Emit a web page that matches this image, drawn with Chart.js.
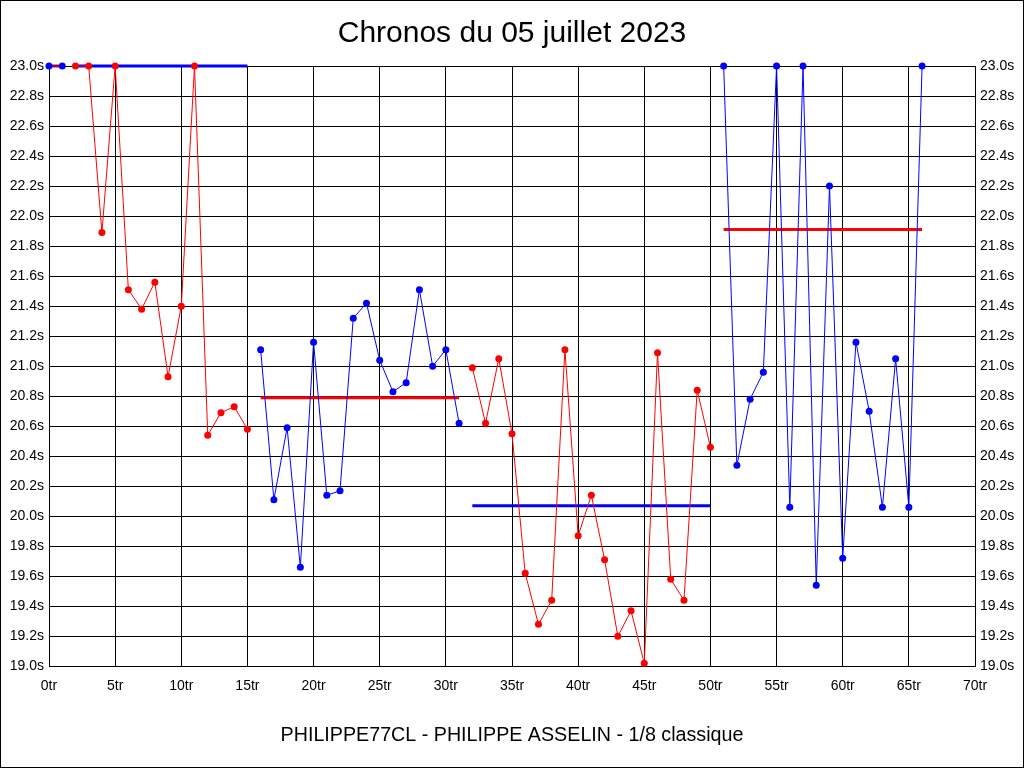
<!DOCTYPE html>
<html>
<head>
<meta charset="utf-8">
<script src="https://cdn.jsdelivr.net/npm/chart.js@4"></script>
<style>
  body { margin: 0; background: #fff; }
  #cadre { width: 1024px; height: 768px; border: 1px solid #000; box-sizing: border-box; }
  canvas { display: block; }
</style>
</head>
<body>
<div id="cadre"><canvas id="chronos" width="1022" height="766"></canvas></div>
<script>
// Chronos par tour (secondes), un tableau par série
const segDebut = [0, 2, 16, 32, 51];
const seg0 = [23.0, 23.0];
const seg1 = [23.0, 23.0, 21.89, 23.0, 21.51, 21.38, 21.56, 20.93, 21.40, 23.0, 20.54, 20.69, 20.73, 20.58];
const seg2 = [21.11, 20.11, 20.59, 19.66, 21.16, 20.14, 20.17, 21.32, 21.42, 21.04, 20.83, 20.89, 21.51, 21.00, 21.11, 20.62];
const seg3 = [20.99, 20.62, 21.05, 20.55, 19.62, 19.28, 19.44, 21.11, 19.87, 20.14, 19.71, 19.20, 19.37, 19.02, 21.09, 19.58, 19.44, 20.84, 20.46];
const seg4 = [23.0, 20.34, 20.78, 20.96, 23.0, 20.06, 23.0, 19.54, 22.20, 19.72, 21.16, 20.70, 20.06, 21.05, 20.06, 23.0];
const moyennes = [23.0, 23.0, 20.79, 20.07, 21.91];
const couleurs = ['#0000ff', '#ff0000', '#0000ff', '#ff0000', '#0000ff'];
const couleursMoy = ['#ff0000', '#0000ff', '#ff0000', '#0000ff', '#ff0000'];

const titre = 'Chronos du 05 juillet 2023';
const sousTitre = 'PHILIPPE77CL - PHILIPPE ASSELIN - 1/8 classique';

const police = "'Liberation Sans', Arial, sans-serif";
const segments = [seg0, seg1, seg2, seg3, seg4];

const datasets = [];
// lignes de moyenne (dessous)
segments.forEach((seg, i) => {
    const debut = segDebut[i];
    const fin = debut + seg.length - 1;
    datasets.push({
        data: [{ x: debut, y: moyennes[i] }, { x: fin, y: moyennes[i] }],
        borderColor: couleursMoy[i],
        borderWidth: 3,
        pointRadius: 0,
        clip: false,
        order: 2
    });
});
// chronos
segments.forEach((seg, i) => {
    datasets.push({
        data: seg.map((v, k) => ({ x: segDebut[i] + k, y: v })),
        borderColor: couleurs[i],
        backgroundColor: couleurs[i],
        borderWidth: 1,
        pointRadius: 3.5,
        pointBorderWidth: 0,
        tension: 0,
        clip: false,
        order: 1
    });
});

const axeY = (pos) => ({
    type: 'linear',
    position: pos,
    min: 19,
    max: 23,
    afterFit: s => { s.width = 48; },
    grid: { color: '#000', lineWidth: 1, drawTicks: false, drawOnChartArea: pos === 'left' },
    border: { color: '#000', width: 1 },
    ticks: {
        stepSize: 0.2,
        padding: 5,
        color: '#000',
        font: { family: police, size: 14 },
        callback: v => v.toFixed(1) + 's'
    }
});

new Chart(document.getElementById('chronos'), {
    type: 'line',
    data: { datasets },
    options: {
        responsive: false,
        animation: false,
        devicePixelRatio: 1,
        layout: { padding: 0 },
        plugins: {
            legend: { display: false },
            tooltip: { enabled: false },
            title: {
                display: true,
                text: titre,
                color: '#000',
                font: { family: police, size: 30, weight: 'normal' },
                padding: { top: 15, bottom: 14 }
            },
            subtitle: {
                display: true,
                position: 'bottom',
                text: sousTitre,
                color: '#000',
                font: { family: police, size: 19.7, weight: 'normal' },
                padding: { top: 17, bottom: 20 }
            }
        },
        scales: {
            x: {
                type: 'linear',
                min: 0,
                max: 70,
                afterFit: s => { s.height = 40; },
                grid: { color: '#000', lineWidth: 1, drawTicks: false },
                border: { color: '#000', width: 1 },
                ticks: {
                    stepSize: 5,
                    padding: 11,
                    maxRotation: 0,
                    color: '#000',
                    font: { family: police, size: 14 },
                    callback: v => v + 'tr'
                }
            },
            y: axeY('left'),
            y2: axeY('right')
        }
    }
});
</script>
</body>
</html>
